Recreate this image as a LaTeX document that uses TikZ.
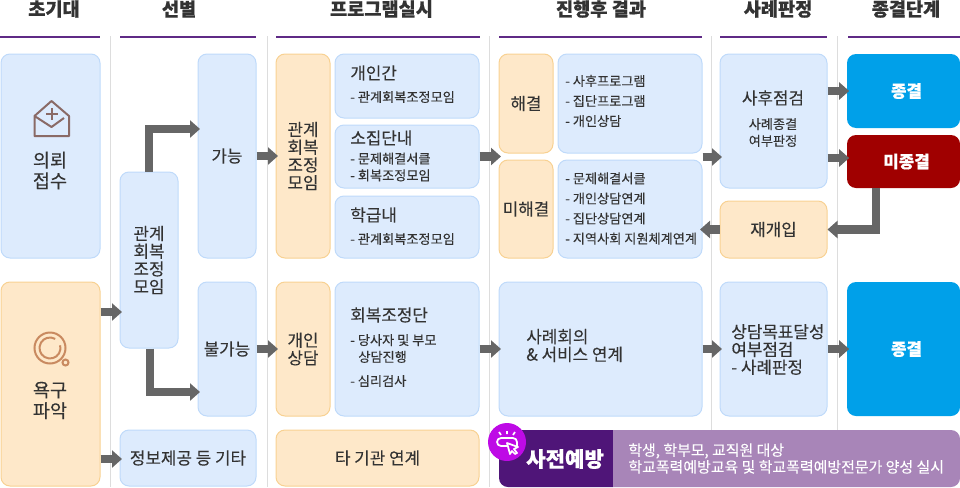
\documentclass[tikz,border=0pt]{standalone}
\usepackage{fontspec}
\setmainfont{Noto Sans CJK KR}[FakeBold=0.12, BoldFeatures={FakeBold=0.5}]
\usetikzlibrary{arrows.meta, calc}
\definecolor{bluefill}{HTML}{DDEBFD}
\definecolor{blueedge}{HTML}{BFDAFA}
\definecolor{orangefill}{HTML}{FEE8C9}
\definecolor{orangeedge}{HTML}{F8D192}
\definecolor{headline}{HTML}{5F2A86}
\definecolor{sepline}{HTML}{DDDDDD}
\definecolor{arrowgray}{HTML}{666666}
\definecolor{endblue}{HTML}{00A0E9}
\definecolor{endred}{HTML}{A00000}
\definecolor{predark}{HTML}{4F1578}
\definecolor{prelight}{HTML}{A885B8}
\definecolor{premagenta}{HTML}{BE0AE6}
\definecolor{textdark}{HTML}{333333}
\definecolor{mailicon}{HTML}{8A6A66}
\definecolor{findicon}{HTML}{C98A60}
\newcommand{\fontL}{\fontsize{9.6}{10.1}\selectfont}
\newcommand{\fontB}{\fontsize{10.6}{11.8}\selectfont}
\newcommand{\fontS}{\fontsize{7.5}{9.6}\selectfont}
\tikzset{
    sized/.style 2 args={minimum width=#1*0.02cm, minimum height=#2*0.02cm, inner sep=0pt},
    bluebox/.style={draw=blueedge, fill=bluefill, line width=0.02cm, rounded corners=0.18cm, text=textdark, font=\fontL, align=center},
    orangebox/.style={draw=orangeedge, fill=orangefill, line width=0.02cm, rounded corners=0.18cm, text=textdark, font=\fontL, align=center},
    solidbox/.style={rounded corners=0.18cm, text=white, font=\fontL\bfseries, align=center},
    label/.style={inner sep=0pt, text=textdark, anchor=west, font=\fontS, align=left},
    flowarrow/.style={draw=arrowgray, line width=0.17cm, shorten >=-0.05cm, -{Triangle[length=0.2cm, width=0.34cm]}},
}
\begin{document}
\begin{tikzpicture}[x=0.02cm, y=-0.02cm]
    \useasboundingbox (0,0) rectangle (960,487);

    % 구분선
    \foreach \sepx in {110, 267, 489, 711, 837} {
        \draw[sepline, line width=0.02cm] (\sepx,36) -- (\sepx,487);
    }

    % 단계 제목
    \foreach \headx/\headl/\headr/\headt in {54/0/100/초기대, 179/120/256/선별, 381.5/276/480/프로그램실시, 601/499/702/진행후 결과, 778/720/827/사례판정, 906/848/960/종결단계} {
        \node[inner sep=0pt, text=textdark, font=\fontsize{10.6}{12}\selectfont\bfseries] at (\headx,9) {\headt};
        \draw[headline, line width=0.04cm] (\headl,37) -- (\headr,37);
    }

    % 초기대
    \node[bluebox, sized={99}{204}] (request) at (50.5,156) {};
    \node[orangebox, sized={99}{204}] (needs) at (50.5,384) {};
    \node[inner sep=0pt, text=textdark, font=\fontB, align=center] (requesttext) at (50,170.5) {의뢰\\접수};
    \node[inner sep=0pt, text=textdark, font=\fontB, align=center] (needstext) at (50,400.5) {욕구\\파악};

    % 아이콘
    \draw[mailicon, line width=0.04cm, line join=round] (34.5,116) -- (34.5,136) -- (69,136) -- (69,116) -- (51.5,101) -- (34.5,116) -- (51.5,127) -- (64,118);
    \draw[mailicon, line width=0.035cm] (46,114) -- (58,114) (52,108) -- (52,120);
    \draw[findicon, line width=0.04cm] (50,348) circle (15.5);
    \draw[findicon, line width=0.04cm] (55.25,338.9) arc[start angle=60, end angle=375, radius=0.21cm];
    \draw[findicon, line width=0.04cm] (65.5,362.5) circle (3);

    % 선별
    \node[bluebox, sized={58}{176}] (meeting) at (149,260) {관계\\회복\\조정\\모임};
    \node[bluebox, sized={58}{204}] (possible) at (227,156) {가능};
    \node[bluebox, sized={58}{134}] (impossible) at (227,349) {불가능};
    \node[bluebox, sized={136}{56}] (info) at (188,458) {정보제공 등 기타};

    % 프로그램실시
    \node[orangebox, sized={54}{204}] (program) at (303,156) {관계\\회복\\조정\\모임};
    \node[orangebox, sized={54}{134}] (counsel) at (303,349) {개인\\상담};
    \node[orangebox, sized={203}{56}] (agency) at (377.5,458) {타 기관 연계};
    \node[bluebox, sized={144}{64}] (personal) at (407,86) {};
    \node[bluebox, sized={144}{63}] (group) at (407,156.5) {};
    \node[bluebox, sized={144}{62}] (class) at (407,227) {};
    \node[bluebox, sized={144}{134}] (restore) at (407,349) {};
    \node[label, font=\fontL] (personalhead) at (350,73) {개인간};
    \node[label] (personaltext) at (350,97) {- 관계회복조정모임};
    \node[label, font=\fontL] (grouphead) at (350,138) {소집단내};
    \node[label] (grouptext) at (350,167) {- 문제해결서클\\- 회복조정모임};
    \node[label, font=\fontL] (classhead) at (350,215) {학급내};
    \node[label] (classtext) at (350,239) {- 관계회복조정모임};
    \node[label, font=\fontL] (restorehead) at (350,315) {회복조정단};
    \node[label] (restoretext) at (350,348.5) {- 당사자 및 부모\\\hspace*{0.16cm}상담진행};
    \node[label] (testtext) at (350,381) {- 심리검사};

    % 진행후 결과
    \node[orangebox, sized={54}{99}] (solved) at (526,103.5) {해결};
    \node[orangebox, sized={54}{98}] (unsolved) at (526,209) {미해결};
    \node[bluebox, sized={144}{99}] (afterlist) at (630,103.5) {};
    \node[bluebox, sized={144}{98}] (unsolvedlist) at (630,209) {};
    \node[bluebox, sized={203}{134}] (casemeeting) at (600.5,349) {};
    \node[label] (aftertext) at (565,101) {- 사후프로그램\\[1.8pt]- 집단프로그램\\[1.8pt]- 개인상담};
    \node[label] (unsolvedtext) at (565,208.5) {- 문제해결서클\\[1.8pt]- 개인상담연계\\[1.8pt]- 집단상담연계\\[1.8pt]- 지역사회 지원체계연계};
    \node[label, font=\fontL] (casetext) at (526,345.5) {사례회의\\\& 서비스 연계};

    % 사례판정
    \node[bluebox, sized={107}{134}] (check) at (773.5,121) {};
    \node[orangebox, sized={107}{57}] (reenter) at (773.5,229.5) {재개입};
    \node[bluebox, sized={107}{134}] (goal) at (773.5,349) {};
    \node[inner sep=0pt, text=textdark, font=\fontL] (checkhead) at (773,98) {사후점검};
    \node[inner sep=0pt, text=textdark, font=\fontS, align=center] (checktext) at (773,132.5) {사례종결\\여부판정};
    \node[label, font=\fontL] (goaltext) at (731,349.5) {상담목표달성\\여부점검\\- 사례판정};

    % 종결단계
    \node[solidbox, fill=endblue, sized={113}{74}] (endone) at (903.5,91) {\hspace*{0.12cm}종결};
    \node[solidbox, fill=endred, sized={113}{53}] (notend) at (903.5,161.5) {\hspace*{0.12cm}미종결};
    \node[solidbox, fill=endblue, sized={113}{134}] (endtwo) at (903.5,349) {\hspace*{0.12cm}종결};

    % 사전예방
    \fill[predark] (613,430) -- (613,487) [rounded corners=0.18cm] -- (499,487) -- (499,430) [sharp corners] -- (613,430) -- cycle;
    \fill[prelight] (613,487) [rounded corners=0.18cm] -- (960,487) -- (960,430) [sharp corners] -- (613,430) -- cycle;
    \fill[premagenta] (507,442) circle (19);
    \draw[white, line width=0.035cm, rounded corners=0.08cm] (509,446) -- (497,446) -- (497,438) -- (517,438) -- (517,446);
    \draw[white, line width=0.035cm, fill=premagenta, line join=round] (507,443) -- (518,447) -- (514,449) -- (517,453) -- (515,454) -- (512,451) -- (510,454) -- cycle;
    \draw[white, line width=0.035cm] (507,431) -- (507,434) (499,432) -- (501,435) (515,432) -- (513,435);
    \node[inner sep=0pt, text=white, font=\fontsize{12}{14}\selectfont\bfseries] (pretitle) at (565,459) {사전예방};
    \node[label, text=white, font=\fontsize{8.5}{9.6}\selectfont] (pretext) at (628,458.5) {학생, 학부모, 교직원 대상\\학교폭력예방교육 및 학교폭력예방전문가 양성 실시};

    % 화살표
    \draw[flowarrow] (meeting.north -| 149,170) |- (possible.west |- 0,129);
    \draw[flowarrow] (meeting.south -| 150,351) |- (impossible.west |- 0,392);
    \draw[flowarrow] (needs.east |- 0,312) -- (meeting.west |- 0,312);
    \draw[flowarrow] (needs.east |- 0,459) -- (info.west |- 0,459);
    \draw[flowarrow] (possible.east) -- (program.west);
    \draw[flowarrow] (impossible.east) -- (counsel.west);
    \draw[flowarrow] (group.east) -- (unsolved.west |- group.east);
    \draw[flowarrow] (restore.east) -- (casemeeting.west);
    \draw[flowarrow] (unsolvedlist.east |- 0,157) -- (check.west |- 0,157);
    \draw[flowarrow] (casemeeting.east) -- (goal.west);
    \draw[flowarrow] (goal.east) -- (endtwo.west);
    \draw[flowarrow] (check.east |- endone.west) -- (endone.west);
    \draw[flowarrow] (check.east |- 0,158) -- (notend.west |- 0,158);
    \draw[flowarrow, shorten >=0pt] (notend.south -| 876,191) |- (reenter.east);
    \draw[flowarrow] (reenter.west) -- (unsolvedlist.east |- reenter.west);
\end{tikzpicture}
\end{document}
